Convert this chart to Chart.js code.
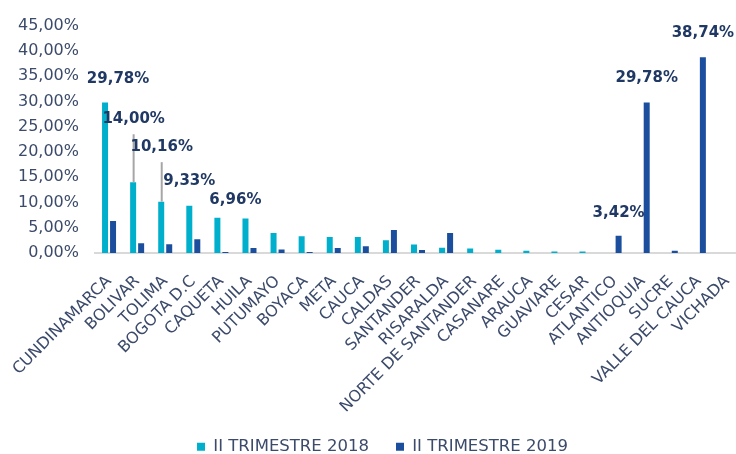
<!DOCTYPE html>
<html>
<head>
<meta charset="utf-8">
<script src="https://cdn.jsdelivr.net/npm/chart.js@4/dist/chart.umd.min.js"></script>
<style>
  html, body { margin: 0; padding: 0; background: #ffffff; overflow: hidden; }
  #wrap { width: 736px; height: 454px; overflow: hidden; }
</style>
</head>
<body>
<div id="wrap"><canvas id="c" width="759" height="465"></canvas></div>
<script>
const categories = ['CUNDINAMARCA','BOLIVAR','TOLIMA','BOGOTA D.C','CAQUETA','HUILA','PUTUMAYO','BOYACA','META','CAUCA','CALDAS','SANTANDER','RISARALDA','NORTE DE SANTANDER','CASANARE','ARAUCA','GUAVIARE','CESAR','ATLANTICO','ANTIOQUIA','SUCRE','VALLE DEL CAUCA','VICHADA'];
const seriesNames = ['II TRIMESTRE 2018','II TRIMESTRE 2019'];
const values2018 = [29.78,14.00,10.16,9.33,6.96,6.85,3.95,3.31,3.18,3.18,2.53,1.68,1.03,0.90,0.64,0.45,0.32,0.30,null,null,null,null,null];
const values2019 = [6.35,1.95,1.75,2.73,0.20,0.97,0.70,0.22,0.97,1.36,4.54,0.58,3.95,null,null,null,null,null,3.42,29.78,0.45,38.74,null];
const yTicks = [0,5,10,15,20,25,30,35,40,45];
const yTickLabels = ['0,00%','5,00%','10,00%','15,00%','20,00%','25,00%','30,00%','35,00%','40,00%','45,00%'];

// labelled bars: [series index, category index]
const labelledBars = [[0,0],[0,1],[0,2],[0,3],[0,4],[1,18],[1,19],[1,21]];
// style: label offsets from bar top (px) and leader lines
const labelStyle = {
  '0-0': {dx: 13, dy: -23},
  '0-1': {dx: 0.5, dy: -63, leader: true},
  '0-2': {dx: 0.5, dy: -54.5, leader: true},
  '0-3': {dx: 0, dy: -25},
  '0-4': {dx: 18, dy: -17.5},
  '1-18': {dx: 0, dy: -22.5},
  '1-19': {dx: 0, dy: -24.5},
  '1-21': {dx: 0, dy: -24.5}
};

const fmt = v => Number(v).toFixed(2).replace('.', ',') + '%';
const FONT = "'DejaVu Sans', Verdana, sans-serif";
const TXT = '#3C4B6B';

const barLabels = {
  id: 'barLabels',
  afterDatasetsDraw(chart) {
    const ctx = chart.ctx;
    ctx.save();
    ctx.font = "bold 15px " + FONT;
    ctx.textAlign = 'center';
    ctx.textBaseline = 'middle';
    labelledBars.forEach(([ds, i]) => {
      const el = chart.getDatasetMeta(ds).data[i];
      const v = chart.data.datasets[ds].data[i];
      const st = labelStyle[ds + '-' + i];
      const x = el.x + st.dx, y = el.y + st.dy;
      if (st.leader) {
        ctx.strokeStyle = '#A6A6A6';
        ctx.lineWidth = 2;
        ctx.beginPath();
        ctx.moveTo(x, y + 15);
        ctx.lineTo(x, el.y);
        ctx.stroke();
      }
      ctx.fillStyle = '#203864';
      ctx.fillText(fmt(v), x, y);
    });
    ctx.restore();
  }
};

new Chart(document.getElementById('c'), {
  type: 'bar',
  data: {
    labels: categories,
    datasets: [
      { label: seriesNames[0], data: values2018, backgroundColor: '#00AFCB' },
      { label: seriesNames[1], data: values2019, backgroundColor: '#1B4F9E' }
    ]
  },
  options: {
    responsive: false,
    animation: false,
    devicePixelRatio: 1,
    categoryPercentage: 0.57,
    barPercentage: 0.75,
    layout: { padding: { left: 6, right: 0, top: 12, bottom: 0 } },
    plugins: {
      tooltip: { enabled: false },
      legend: {
        position: 'bottom',
        labels: {
          boxWidth: 8, boxHeight: 8, padding: 27,
          color: TXT,
          font: { family: FONT, size: 16.5 }
        }
      }
    },
    scales: {
      x: {
        afterFit: s => { s.height = 158.5; s.paddingLeft = 0; s.paddingRight = 18; },
        grid: { display: false, drawTicks: false },
        border: { display: true, color: '#D9D9D9', width: 2 },
        ticks: {
          autoSkip: false, minRotation: 45, maxRotation: 45, padding: 19,
          color: TXT, font: { family: FONT, size: 16 }
        }
      },
      y: {
        min: 0, max: 45,
        afterBuildTicks: axis => { axis.ticks = yTicks.map(v => ({ value: v })); },
        afterFit: s => { s.width = 89; },
        grid: { display: false, drawTicks: false },
        border: { display: false },
        ticks: {
          padding: 16, color: TXT, font: { family: FONT, size: 16 },
          callback: (v, i) => yTickLabels[i]
        }
      }
    }
  },
  plugins: [barLabels]
});
</script>
</body>
</html>
